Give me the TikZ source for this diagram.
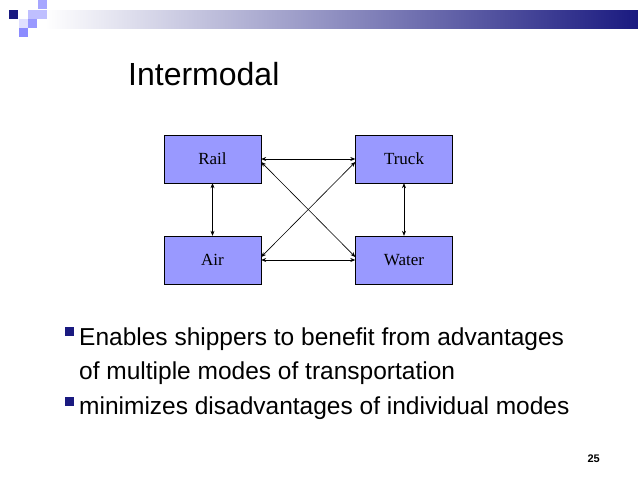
\documentclass[tikz,border=0pt]{standalone}
\usepackage{fontspec}
\setmainfont{Liberation Sans}
\newfontfamily\boxfont{Liberation Serif}
\usetikzlibrary{arrows.meta,positioning}
\definecolor{modefill}{HTML}{9999FF}
\definecolor{banddark}{HTML}{1A1A80}
\definecolor{bulletblue}{HTML}{1A1A80}
\tikzset{
  modebox/.style={draw=black, fill=modefill, minimum width=97pt, minimum height=48pt, inner sep=0pt, font=\boxfont\fontsize{17}{17}\selectfont},
  link/.style={<->, >={Stealth[length=5pt,width=4pt]}, line width=0.6pt},
  bodytext/.style={anchor=base west, inner sep=0pt, font=\fontsize{24.5}{24.5}\selectfont}
}
\begin{document}
\begin{tikzpicture}[x=1pt, y=-1pt]
        \useasboundingbox (0,0) rectangle (638,479);
        % Header band and squares
        \shade[left color=white, right color=banddark] (45,10) rectangle (638,28);
        \fill[banddark] (9,10) rectangle (18,19);
        \fill[blue!35!white] (38,0) rectangle (47,9);
        \fill[blue!25!white] (28,10) rectangle (47,19);
        \fill[blue!40!white] (28,19) rectangle (37,28);
        \fill[blue!12!white] (19,19) rectangle (28,28);
        \fill[blue!45!white] (19,28) rectangle (28,37);
        
        % Title
        \node[anchor=base west, inner sep=0pt, font=\fontsize{32}{32}\selectfont] (title) at (128,85) {Intermodal};
        
        % Modes
        \node[modebox] (rail) at (212.5,159) {Rail};
        \node[modebox] (truck) at (404,159) {Truck};
        \node[modebox] (air) at (212.5,260) {Air};
        \node[modebox] (water) at (404,260) {Water};
        
        \draw[link] (rail) -- (truck);
        \draw[link] (air) -- (water);
        \draw[link] (rail) -- (air);
        \draw[link] (truck) -- (water);
        \draw[link] ([yshift=-3pt]rail.east) -- ([yshift=3pt]water.west);
        \draw[link] ([yshift=3pt]air.east) -- ([yshift=-3pt]truck.west);
        
        % Bullets
        \fill[bulletblue] (65,327) rectangle (74,336) coordinate (b1);
        \fill[bulletblue] (65,397) rectangle (74,406) coordinate (b2);
        \node[bodytext] (text1) at (79,345) {Enables shippers to benefit from advantages};
        \node[bodytext] (text1b) at (79,379) {of multiple modes of transportation};
        \node[bodytext] (text2) at (79,414) {minimizes disadvantages of individual modes};
        \node[anchor=base east, inner sep=0pt, font=\bfseries\fontsize{11}{11}\selectfont] (page) at (600,462) {25};
    \end{tikzpicture}
\end{document}
